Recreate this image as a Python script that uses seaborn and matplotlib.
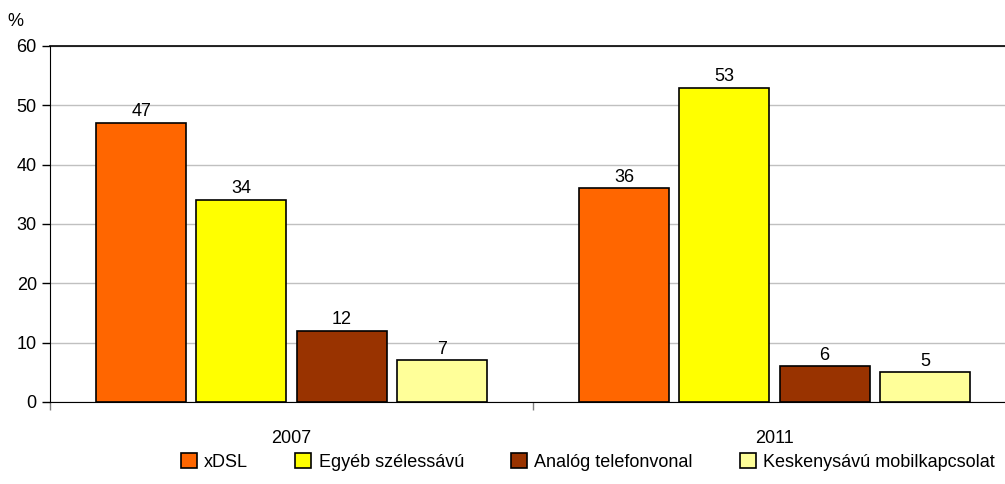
import pandas as pd
import matplotlib
matplotlib.use('Agg')
import matplotlib.pyplot as plt
import seaborn as sns

# Données
years = ['2007', '2011']
categories = ['xDSL', 'Egyéb szélessávú', 'Analóg telefonvonal', 'Keskenysávú mobilkapcsolat']
values_2007 = [47, 34, 12, 7]
values_2011 = [36, 53, 6, 5]
colors = ['#FF6600', '#FFFF00', '#993300', '#FFFF99']

df = pd.DataFrame({
    'Év': [years[0]] * 4 + [years[1]] * 4,
    'Kategória': categories * 2,
    'Érték': values_2007 + values_2011,
})

sns.set_style('white')
plt.rcParams['font.family'] = ['Liberation Sans', 'DejaVu Sans']
plt.rcParams['text.color'] = 'black'
plt.rcParams['xtick.color'] = 'black'
plt.rcParams['ytick.color'] = 'black'

fig = plt.figure(figsize=(10.05, 4.84), dpi=100)
# l'axe dépasse un peu à droite, comme dans l'original
ax = fig.add_axes([50 / 1005, 82 / 484, 966 / 1005, 356 / 484])

sns.barplot(data=df, x='Év', y='Érték', hue='Kategória', palette=colors,
            saturation=1, width=0.83, gap=0.1, edgecolor='black', linewidth=1.2,
            legend=True, ax=ax)

for cont in ax.containers:
    ax.bar_label(cont, fontsize=13, padding=2)

ax.set_ylim(0, 60)
ax.set_xlim(-0.5, 1.5)
ax.set_yticks(range(0, 61, 10))
ax.yaxis.grid(True, color='#c0c0c0', linewidth=1)
ax.set_axisbelow(True)
ax.set_xlabel('')
ax.set_ylabel('')

ax.spines['right'].set_visible(False)
for s in ['top', 'left', 'bottom']:
    ax.spines[s].set_color('black')
ax.spines['top'].set_linewidth(1.2)

ax.tick_params(axis='y', length=6, width=1, labelsize=13, direction='out', left=True)
ax.tick_params(axis='x', which='major', length=0, labelsize=13, pad=20)
ax.set_xticks([-0.5, 0.5], minor=True)
ax.tick_params(axis='x', which='minor', length=6, width=1, color='#808080', bottom=True)

ax.text(-0.044, 1.045, '%', transform=ax.transAxes, fontsize=13, ha='left', va='bottom')

handles, labels = ax.get_legend_handles_labels()
ax.get_legend().remove()
fig.legend(handles, labels, loc='center', bbox_to_anchor=(0.585, 0.045), ncol=4,
           frameon=False, fontsize=13, handlelength=0.9, handleheight=0.9,
           handletextpad=0.4, columnspacing=2.6)

plt.savefig('out.png', dpi=100)
